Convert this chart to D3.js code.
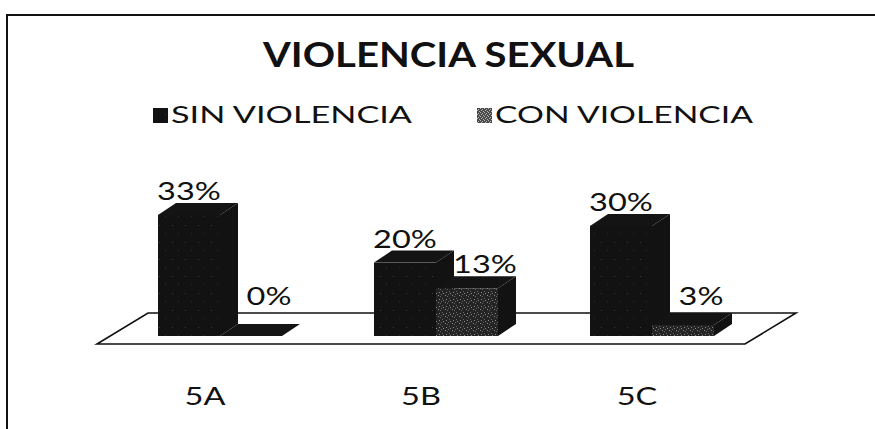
<!DOCTYPE html>
<html>
<head>
<meta charset="utf-8">
<script src="https://cdn.jsdelivr.net/npm/d3@7"></script>
<style>
  body { margin: 0; background: #fff; }
  text { font-family: Lato, "Open Sans", sans-serif; fill: #111; }
</style>
</head>
<body>
<div id="chart"></div>
<script>
// chart data
var categories = ["5A", "5B", "5C"];
var seriesNames = ["SIN VIOLENCIA", "CON VIOLENCIA"];
var sinValues = [33, 20, 30];
var conValues = [0, 13, 3];
var chartTitle = "VIOLENCIA SEXUAL";

var svgWidth = 875;
var svgHeight = 429;

// 3d look: floor and bar depth offsets
var floorFront = 344, floorBack = 313;
var floorDx = 51;
var barDx = 18, barDy = -12;
var baseY = 336;
var stretch = 1.3; // text in the picture is wider than the font

var svg = d3.select("#chart")
  .append("svg")
  .attr("width", svgWidth)
  .attr("height", svgHeight);

var defs = svg.append("defs");

// speckled fills
var sinPat = defs.append("pattern").attr("id", "sinTex")
  .attr("width", 13).attr("height", 17).attr("patternUnits", "userSpaceOnUse");
sinPat.append("rect").attr("width", 13).attr("height", 17).attr("fill", "#121212");
sinPat.append("rect").attr("x", 3).attr("y", 4).attr("width", 1).attr("height", 1).attr("fill", "#3a3a3a");
sinPat.append("rect").attr("x", 9).attr("y", 12).attr("width", 1).attr("height", 1).attr("fill", "#2e2e2e");

var conPat = defs.append("pattern").attr("id", "conTex")
  .attr("width", 7).attr("height", 7).attr("patternUnits", "userSpaceOnUse");
conPat.append("rect").attr("width", 7).attr("height", 7).attr("fill", "#242424");
[[0, 0], [4, 1], [1, 4], [5, 5], [6, 2], [2, 6]].forEach(function(p, i) {
  conPat.append("rect").attr("x", p[0]).attr("y", p[1]).attr("width", 1).attr("height", 1)
    .attr("fill", i % 2 ? "#8a8a8a" : "#666");
});

var legPat = defs.append("pattern").attr("id", "legTex")
  .attr("width", 4).attr("height", 4).attr("patternUnits", "userSpaceOnUse");
legPat.append("rect").attr("width", 4).attr("height", 4).attr("fill", "#4a4a4a");
[[0, 0], [2, 1], [1, 2], [3, 3]].forEach(function(p) {
  legPat.append("rect").attr("x", p[0]).attr("y", p[1]).attr("width", 1).attr("height", 1).attr("fill", "#b5b5b5");
});

// widen a text to match the scanned look
function widen(sel) {
  sel.each(function() {
    var len = this.getComputedTextLength();
    d3.select(this).attr("textLength", len * stretch).attr("lengthAdjust", "spacingAndGlyphs");
  });
}

// frame (only top and left edges show)
svg.append("path")
  .attr("d", "M7,429 L7,15 L875,15")
  .attr("fill", "none")
  .attr("stroke", "#111")
  .attr("stroke-width", 2);

// title
svg.append("text")
  .attr("x", 263)
  .attr("y", 67)
  .attr("font-size", 34)
  .attr("font-weight", "bold")
  .attr("textLength", 371)
  .attr("lengthAdjust", "spacingAndGlyphs")
  .text(chartTitle);

// legend
var legendX = [153, 477];
var legendW = [241, 258];
var legend = svg.selectAll(".legend")
  .data(seriesNames)
  .enter()
  .append("g")
  .attr("class", "legend");

legend.append("rect")
  .attr("x", (d, i) => legendX[i])
  .attr("y", 108)
  .attr("width", 15)
  .attr("height", 15)
  .attr("fill", (d, i) => i === 0 ? "url(#sinTex)" : "url(#legTex)");

legend.append("text")
  .attr("x", (d, i) => legendX[i] + 18)
  .attr("y", 123)
  .attr("font-size", 24)
  .attr("textLength", (d, i) => legendW[i])
  .attr("lengthAdjust", "spacingAndGlyphs")
  .text(d => d);

// scales
var xScale = d3.scaleBand()
  .domain(categories)
  .range([97, 745]);

var groupWidth = 124;
var xSub = d3.scaleBand()
  .domain(seriesNames)
  .range([0, groupWidth]);

var yScale = d3.scaleLinear()
  .domain([0, 35])
  .range([baseY, baseY - 35 * 3.67]);

// floor
svg.append("path")
  .attr("d", `M${xScale.range()[0]},${floorFront} L${xScale.range()[1]},${floorFront} L${xScale.range()[1] + floorDx},${floorBack} L${xScale.range()[0] + floorDx},${floorBack} Z`)
  .attr("fill", "none")
  .attr("stroke", "#111")
  .attr("stroke-width", 1.6);

// bar data
var bars = [];
categories.forEach(function(c, i) {
  bars.push({ cat: c, series: seriesNames[0], value: sinValues[i] });
  bars.push({ cat: c, series: seriesNames[1], value: conValues[i] });
});

function barX(d) {
  return xScale(d.cat) + (xScale.bandwidth() - groupWidth) / 2 + 15 + xSub(d.series);
}

var w = xSub.bandwidth();
var barGroup = svg.append("g");

var barSel = barGroup.selectAll(".bar")
  .data(bars)
  .enter()
  .append("g")
  .attr("class", "bar");

// front face
barSel.append("rect")
  .attr("x", d => barX(d))
  .attr("y", d => yScale(d.value))
  .attr("width", w)
  .attr("height", d => baseY - yScale(d.value))
  .attr("fill", d => d.series === seriesNames[0] ? "url(#sinTex)" : "url(#conTex)");

// top face
barSel.append("path")
  .attr("d", function(d) {
    var x0 = barX(d), y0 = yScale(d.value);
    return `M${x0},${y0} L${x0 + barDx},${y0 + barDy} L${x0 + w + barDx},${y0 + barDy} L${x0 + w},${y0} Z`;
  })
  .attr("fill", "#141414");

// side face
barSel.append("path")
  .attr("d", function(d) {
    var x0 = barX(d) + w, y0 = yScale(d.value);
    return `M${x0},${y0} L${x0 + barDx},${y0 + barDy} L${x0 + barDx},${baseY + barDy} L${x0},${baseY} Z`;
  })
  .attr("fill", "#121212");

// value labels
svg.selectAll(".valLabel")
  .data(bars)
  .enter()
  .append("text")
  .attr("class", "valLabel")
  .attr("x", d => barX(d) + w / 2 + (d.series === seriesNames[1] ? barDx : 0))
  .attr("y", d => Math.min(yScale(d.value) - 15, floorBack - 8))
  .attr("text-anchor", "middle")
  .attr("font-size", 25)
  .text(d => d.value + "%")
  .call(widen);

// category labels
svg.selectAll(".catLabel")
  .data(categories)
  .enter()
  .append("text")
  .attr("class", "catLabel")
  .attr("x", d => xScale(d) + xScale.bandwidth() / 2)
  .attr("y", 405)
  .attr("text-anchor", "middle")
  .attr("font-size", 25)
  .text(d => d)
  .call(widen);
</script>
</body>
</html>
